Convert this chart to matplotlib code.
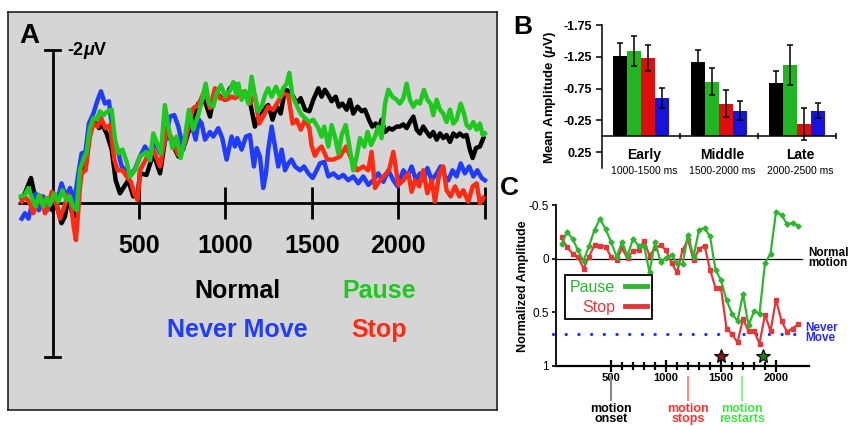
import matplotlib
matplotlib.use("Agg")
import matplotlib.pyplot as plt
from matplotlib.lines import Line2D
import numpy as np

plt.rcParams['font.family'] = ['Liberation Sans', 'DejaVu Sans']
plt.rcParams['mathtext.fontset'] = 'custom'
plt.rcParams['mathtext.rm'] = 'Liberation Sans:bold'
plt.rcParams['mathtext.it'] = 'Liberation Sans:italic:bold'
plt.rcParams['mathtext.bf'] = 'Liberation Sans:bold'

# ---------------- dati pannello A (ms, microvolt; negativo in alto) ----------------
normal_a = [(-179, -0.07), (-160, -0.13), (-125, -0.33), (-106, -0.13), (-86, 0.04), (-67, -0.09),
            (-44, 0.07), (-25, 0.0), (-2, 0.09), (23, 0.02), (52, 0.26), (72, 0.17), (91, -0.09),
            (114, 0.13), (133, 0.17), (153, -0.30), (178, -0.48), (203, -0.83), (222, -1.00),
            (245, -1.06), (269, -0.98), (288, -1.02), (313, -0.91), (342, -0.70), (365, -0.30),
            (390, -0.13), (415, -0.22), (438, -0.30), (467, -0.09), (492, -0.10), (506, -0.39),
            (544, -0.37), (583, -0.65), (622, -0.39), (660, -0.96), (689, -0.80), (728, -0.61),
            (766, -0.78), (814, -1.13), (843, -1.30), (882, -1.33), (911, -1.13), (940, -1.48),
            (968, -1.39), (998, -1.35), (1027, -1.50), (1052, -1.56), (1084, -1.41), (1113, -1.46),
            (1142, -1.33), (1171, -1.00), (1196, -1.17), (1219, -1.22), (1248, -1.28), (1273, -1.09),
            (1297, -1.26), (1320, -1.17), (1345, -1.48), (1370, -1.46), (1393, -1.39), (1412, -1.30),
            (1436, -1.37), (1461, -1.22), (1486, -1.20), (1509, -1.35), (1538, -1.50), (1557, -1.39),
            (1576, -1.48), (1596, -1.41), (1615, -1.33), (1638, -1.39), (1657, -1.26), (1677, -1.30),
            (1702, -1.22), (1721, -1.35), (1740, -1.17), (1765, -1.26), (1789, -1.20), (1808, -1.22),
            (1831, -1.09), (1850, -1.00), (1870, -1.04), (1885, -0.96), (1904, -1.09), (1924, -0.93),
            (1947, -0.98), (1966, -0.96), (1991, -1.00), (2010, -1.00), (2030, -1.03), (2049, -0.98),
            (2068, -1.06), (2088, -1.13), (2107, -0.96), (2126, -0.91), (2145, -1.00), (2165, -0.93),
            (2184, -0.87), (2203, -0.93), (2223, -0.83), (2242, -0.91), (2261, -0.85), (2280, -0.89),
            (2300, -0.80), (2319, -0.91), (2338, -0.87), (2357, -0.91), (2377, -0.87), (2396, -0.89),
            (2415, -0.70), (2431, -0.59), (2450, -0.72), (2473, -0.74), (2493, -0.85)]

never_a = [(-179, 0.20), (-160, 0.13), (-140, 0.20), (-117, 0.0), (-98, -0.13), (-79, 0.09),
           (-54, -0.09), (-31, 0.09), (-5, -0.04), (23, 0.0), (52, -0.26), (76, -0.09), (101, -0.20),
           (126, -0.02), (149, -0.39), (168, -0.65), (191, -0.67), (210, -1.04), (236, -1.17),
           (261, -1.35), (280, -1.46), (303, -1.30), (326, -1.33), (351, -0.87), (376, -0.70),
           (400, -0.48), (425, -0.43), (448, -0.35), (477, -0.45), (506, -0.61), (535, -0.74),
           (564, -0.63), (593, -0.80), (622, -0.65), (650, -0.80), (679, -1.13), (704, -1.15),
           (728, -1.00), (757, -0.70), (782, -1.04), (805, -1.02), (828, -0.83), (847, -1.09),
           (863, -1.04), (882, -0.83), (911, -0.93), (930, -0.87), (959, -0.98), (982, -0.85),
           (1007, -0.57), (1036, -0.87), (1055, -0.74), (1069, -0.85), (1094, -0.70), (1119, -0.87),
           (1142, -0.89), (1165, -0.48), (1181, -0.72), (1200, -0.61), (1219, -0.20), (1235, -0.39),
           (1248, -0.70), (1268, -1.00), (1287, -0.74), (1306, -0.48), (1326, -0.70), (1345, -0.43),
           (1364, -0.52), (1383, -0.57), (1403, -0.48), (1432, -0.43), (1455, -0.48), (1480, -0.39),
           (1505, -0.33), (1528, -0.43), (1547, -0.52), (1572, -0.54), (1596, -0.35), (1625, -0.39),
           (1654, -0.33), (1682, -0.37), (1711, -0.30), (1740, -0.35), (1769, -0.26), (1798, -0.35),
           (1827, -0.24), (1856, -0.30), (1885, -0.39), (1914, -0.28), (1943, -0.43), (1972, -0.30),
           (1997, -0.22), (2030, -0.43), (2053, -0.35), (2078, -0.48), (2103, -0.30), (2126, -0.39),
           (2145, -0.30), (2169, -0.46), (2194, -0.30), (2223, -0.39), (2246, -0.48), (2271, -0.35),
           (2290, -0.30), (2315, -0.43), (2338, -0.35), (2362, -0.52), (2386, -0.39), (2411, -0.48),
           (2435, -0.35), (2458, -0.43), (2483, -0.33), (2502, -0.30)]

stop_a = [(-179, -0.02), (-160, -0.09), (-131, 0.0), (-112, 0.13), (-92, 0.02), (-67, -0.09),
          (-44, 0.13), (-25, 0.04), (-5, -0.15), (18, -0.02), (43, 0.20), (68, 0.04), (87, -0.11),
          (106, 0.0), (122, 0.30), (135, 0.48), (147, 0.15), (158, -0.20), (168, -0.39), (191, -0.43),
          (216, -0.87), (236, -1.04), (261, -1.00), (280, -1.11), (307, -0.98), (332, -1.02),
          (357, -0.57), (376, -0.43), (404, -0.43), (428, -0.35), (453, -0.28), (473, -0.13),
          (492, -0.04), (506, -0.43), (544, -0.59), (583, -0.70), (622, -0.48), (660, -0.98),
          (689, -0.85), (728, -0.63), (766, -0.80), (814, -1.24), (843, -1.28), (882, -1.48),
          (911, -1.24), (940, -1.50), (968, -1.37), (1007, -1.35), (1036, -1.39), (1056, -1.37),
          (1084, -1.41), (1113, -1.46), (1142, -1.30), (1171, -1.41), (1196, -1.04), (1219, -1.13),
          (1248, -1.26), (1277, -1.22), (1306, -1.33), (1335, -1.43), (1364, -1.41), (1389, -1.04),
          (1412, -1.09), (1436, -0.96), (1461, -1.09), (1486, -0.98), (1499, -0.75), (1518, -0.62),
          (1538, -0.70), (1557, -0.74), (1590, -0.57), (1625, -0.57), (1663, -0.61), (1698, -0.74),
          (1731, -0.57), (1763, -0.43), (1798, -0.48), (1827, -0.43), (1846, -0.67), (1866, -0.20),
          (1895, -0.30), (1923, -0.37), (1947, -0.43), (1972, -0.67), (2001, -0.24), (2030, -0.30),
          (2059, -0.39), (2078, -0.15), (2097, -0.30), (2122, -0.22), (2145, -0.43), (2169, -0.13),
          (2194, -0.30), (2213, -0.02), (2238, -0.39), (2261, -0.48), (2280, -0.17), (2304, -0.09),
          (2329, -0.22), (2354, -0.09), (2377, -0.17), (2406, -0.02), (2431, -0.22), (2454, -0.26),
          (2473, 0.0), (2493, -0.07)]

pause_a = [(-183, -0.09), (-160, -0.11), (-140, -0.20), (-112, -0.02), (-98, 0.04), (-79, -0.11),
           (-54, 0.04), (-34, -0.07), (-15, 0.02), (10, -0.13), (33, -0.02), (56, -0.17), (81, -0.04),
           (100, -0.09), (120, 0.04), (139, 0.09), (158, -0.43), (178, -0.57), (197, -0.67),
           (216, -0.98), (236, -1.11), (255, -1.09), (274, -1.20), (294, -1.15), (319, -1.20),
           (342, -1.22), (361, -0.83), (380, -0.65), (404, -0.70), (429, -0.54), (448, -0.35),
           (477, -0.43), (506, -0.61), (544, -0.67), (564, -0.56), (583, -0.91), (602, -0.80),
           (627, -0.65), (650, -1.28), (670, -1.00), (693, -0.72), (718, -0.87), (741, -0.59),
           (766, -0.85), (789, -1.22), (814, -0.96), (843, -1.15), (863, -1.33), (886, -1.56),
           (905, -1.30), (930, -1.26), (949, -1.43), (974, -1.54), (998, -1.39), (1027, -1.47),
           (1046, -1.58), (1062, -1.42), (1075, -1.56), (1094, -1.35), (1113, -1.46), (1133, -1.30),
           (1152, -1.65), (1171, -1.39), (1191, -1.20), (1210, -1.26), (1229, -1.41), (1248, -1.50),
           (1268, -1.39), (1293, -1.52), (1316, -1.39), (1335, -1.50), (1355, -1.56), (1370, -1.70),
           (1389, -1.39), (1412, -1.28), (1436, -1.17), (1461, -1.11), (1486, -1.06), (1509, -1.09),
           (1538, -0.98), (1557, -0.87), (1572, -1.00), (1596, -0.74), (1615, -1.02), (1634, -0.87),
           (1654, -0.65), (1673, -0.89), (1696, -1.02), (1715, -0.78), (1740, -0.43), (1760, -0.61),
           (1779, -0.85), (1804, -0.74), (1823, -0.93), (1843, -0.76), (1866, -0.87), (1885, -1.00),
           (1904, -0.85), (1924, -1.30), (1943, -1.48), (1966, -1.39), (1991, -1.35), (2010, -1.30),
           (2030, -1.37), (2049, -1.56), (2068, -1.35), (2088, -1.26), (2107, -1.33), (2126, -1.30),
           (2149, -1.48), (2169, -1.35), (2188, -1.30), (2203, -1.15), (2223, -1.35), (2242, -1.22),
           (2261, -1.17), (2280, -1.06), (2300, -1.22), (2319, -1.04), (2338, -1.09), (2362, -1.30),
           (2381, -1.17), (2396, -1.02), (2415, -0.98), (2435, -1.06), (2454, -0.96), (2473, -1.04),
           (2489, -0.89), (2502, -0.91)]

a_ticks = [500, 1000, 1500, 2000, 2500]
a_tick_labels = ['500', '1000', '1500', '2000', '']

# ---------------- dati pannello B ----------------
b_windows = ['Early', 'Middle', 'Late']
b_ranges = ['1000-1500 ms', '1500-2000 ms', '2000-2500 ms']
b_conditions = ['Normal', 'Pause', 'Stop', 'Never Move']
b_means = {'Normal': [-1.27, -1.16, -0.83],
           'Pause': [-1.34, -0.86, -1.12],
           'Stop': [-1.23, -0.51, -0.19],
           'Never Move': [-0.60, -0.40, -0.40]}
b_errs = {'Normal': [0.20, 0.19, 0.20],
          'Pause': [0.23, 0.21, 0.32],
          'Stop': [0.21, 0.21, 0.25],
          'Never Move': [0.16, 0.15, 0.12]}
b_yticks = [-1.75, -1.25, -0.75, -0.25, 0.25]

# ---------------- dati pannello C ----------------
c_times = [50, 100, 150, 200, 250, 300, 350, 400, 450, 500, 550, 600, 650, 700, 750, 800, 850,
           900, 950, 1000, 1050, 1100, 1150, 1200, 1250, 1300, 1350, 1400, 1450, 1500, 1550,
           1600, 1650, 1700, 1750, 1800, 1850, 1900, 1950, 2000, 2050, 2100, 2150, 2200]
c_pause = [-0.14, -0.25, -0.19, -0.08, 0.02, -0.12, -0.27, -0.375, -0.28, -0.16, -0.02, -0.155,
           -0.03, -0.185, -0.125, -0.125, 0.125, -0.16, 0.025, -0.005, -0.04, 0.04, 0.05, -0.225,
           -0.02, -0.27, -0.29, -0.21, 0.10, 0.20, 0.385, 0.51, 0.58, 0.33, 0.62, 0.49, 0.51,
           0.04, -0.047, -0.44, -0.41, -0.325, -0.335, -0.31]
c_stop = [-0.20, -0.11, -0.05, -0.02, 0.09, -0.02, -0.13, -0.125, -0.115, -0.02, 0.01, -0.10,
          -0.005, -0.075, -0.08, -0.17, -0.03, -0.10, -0.13, -0.08, 0.04, 0.125, -0.08, -0.18,
          0.01, -0.09, -0.125, 0.10, 0.27, 0.27, 0.65, 0.70, 0.78, 0.56, 0.675, 0.675, 0.79,
          0.52, 0.675, 0.38, 0.58, 0.68, 0.65, 0.61]
c_never_level = 0.70
c_star_times = [1500, 1880]
c_star_level = 0.91
c_events = [500, 1200, 1690]
c_event_labels = ['motion\nonset', 'motion\nstops', 'motion\nrestarts']
c_major = [500, 1000, 1500, 2000]
c_minor = [600, 700, 800, 900, 1100, 1200, 1300, 1400, 1600, 1700, 1800, 1900]

# colori
BLACK = '#000000'
GREEN_A, RED_A, BLUE_A = '#1ec81e', '#ff2a12', '#1f3cff'
GREEN_B, RED_B, BLUE_B = '#22b522', '#e00d0d', '#1414dd'
GREEN_C, RED_C = '#2fb52f', '#e2383c'

W, H = 850, 426


def fx(x):
    return x / W


def fy(y):
    return 1 - y / H


fig = plt.figure(figsize=(W / 100, H / 100), dpi=100)

# ================= PANNELLO A =================
axA = fig.add_axes([fx(8), fy(410), fx(497) - fx(8), fy(12) - fy(410)])
axA.set_facecolor('#d5d5d5')
axA.set_xlim(-258, 2572)
axA.set_ylim(2.695, -2.494)
axA.set_xticks([])
axA.set_yticks([])
for s in axA.spines.values():
    s.set_linewidth(1.2)
    s.set_color('#222222')

# assi disegnati a mano
axA.plot([0, 0], [-2, 2], color='black', lw=2, solid_capstyle='butt', zorder=2)
axA.plot([-45, 45], [-2, -2], color='black', lw=2, zorder=2)
axA.plot([-45, 45], [2, 2], color='black', lw=2, zorder=2)
axA.plot([-200, 2500], [0, 0], color='black', lw=2, solid_capstyle='butt', zorder=2)
axA.vlines(a_ticks, -0.21, 0.21, color='black', lw=2, zorder=2)
for t, lab in zip(a_ticks, a_tick_labels):
    axA.text(t, 0.653, lab, ha='center', va='baseline', fontsize=18, fontweight='bold')

for serie, col in [(normal_a, BLACK), (never_a, BLUE_A), (stop_a, RED_A), (pause_a, GREEN_A)]:
    tt, vv = zip(*serie)
    axA.plot(tt, vv, color=col, lw=3.2, solid_joinstyle='round', zorder=3)

axA.text(81, -1.934, r'-2$\mu$V', ha='left', va='baseline', fontsize=13, fontweight='bold')
axA.text(-190, -2.086, 'A', ha='left', va='baseline', fontsize=20, fontweight='bold')
axA.text(1067, 1.231, 'Normal', ha='center', va='baseline', fontsize=18, fontweight='bold', color=BLACK)
axA.text(1893, 1.231, 'Pause', ha='center', va='baseline', fontsize=18, fontweight='bold', color=GREEN_A)
axA.text(1071, 1.739, 'Never Move', ha='center', va='baseline', fontsize=18, fontweight='bold', color=BLUE_A)
axA.text(1889, 1.739, 'Stop', ha='center', va='baseline', fontsize=18, fontweight='bold', color=RED_A)

# ================= PANNELLO B =================
axB = fig.add_axes([fx(602), fy(168), fx(836) - fx(602), fy(25) - fy(168)])
axB.set_xlim(0, 3)
axB.set_ylim(0.5, -1.75)
bw = 0.18
centri = np.arange(len(b_windows)) + 0.5
b_colors = [BLACK, GREEN_B, RED_B, BLUE_B]
for j, (cond, col) in enumerate(zip(b_conditions, b_colors)):
    xs = centri + (j - 1.5) * bw
    axB.bar(xs, b_means[cond], width=bw, color=col, zorder=2)
    axB.errorbar(xs, b_means[cond], yerr=b_errs[cond], fmt='none', ecolor='black',
                 elinewidth=1.1, capsize=2.5, capthick=1.1, zorder=3)

axB.spines['top'].set_visible(False)
axB.spines['right'].set_visible(False)
axB.spines['bottom'].set_position(('data', 0))
axB.spines['left'].set_linewidth(1.1)
axB.spines['bottom'].set_linewidth(1.1)
axB.set_yticks(b_yticks)
axB.set_yticklabels([f'{v:.2f}' for v in b_yticks], fontsize=9, fontweight='bold')
axB.tick_params(axis='y', direction='out', length=4, width=1.1, pad=3)
axB.set_xticks([1, 2, 3])
axB.set_xticklabels([])
axB.tick_params(axis='x', direction='inout', length=5, width=1.1)
for c, nome, rng in zip(centri, b_windows, b_ranges):
    axB.text(c + 0.04, 0.30, nome, ha='center', va='center', fontsize=10, fontweight='bold')
    axB.text(c + 0.04, 0.55, rng, ha='center', va='center', fontsize=7.5)

fig.text(fx(550), fy(98), r'Mean Amplitude ($\mu$V)', rotation=90, ha='center', va='center',
         fontsize=9.5, fontweight='bold')
fig.text(fx(513), fy(34), 'B', ha='left', va='baseline', fontsize=19, fontweight='bold')

# ================= PANNELLO C =================
axC = fig.add_axes([fx(556), fy(366), fx(809) - fx(556), fy(200) - fy(366)])
axC.set_xlim(0, 2300)
axC.set_ylim(1.0, -0.55)
axC.spines['top'].set_visible(False)
axC.spines['right'].set_visible(False)
axC.spines['left'].set_bounds(-0.5, 1)
axC.spines['left'].set_linewidth(1.3)
axC.spines['bottom'].set_linewidth(1.6)
axC.set_yticks([-0.5, 0, 0.5, 1])
axC.set_yticklabels(['-0.5', '0', '0.5', '1'], fontsize=8.5)
axC.tick_params(axis='y', direction='out', length=3, width=1.2, pad=2)
axC.set_xticks(c_major)
axC.set_xticklabels([str(v) for v in c_major], fontsize=8, fontweight='bold')
axC.set_xticks(c_minor, minor=True)
axC.tick_params(axis='x', which='major', direction='inout', length=8, width=1.6, pad=1)
axC.tick_params(axis='x', which='minor', direction='inout', length=5.5, width=1.6)

axC.plot([0, 2235], [0, 0], color='black', lw=0.9, zorder=1)
axC.plot([-30, 2170], [c_never_level, c_never_level], color='#2233ff', lw=2.4,
         linestyle=(0, (0.01, 3.8)), dash_capstyle='round', clip_on=False, zorder=1)
axC.plot(c_times, c_stop, color=RED_C, lw=1.6, marker='s', markersize=3.2, zorder=3)
axC.plot(c_times, c_pause, color=GREEN_C, lw=1.6, marker='D', markersize=2.6, zorder=4)
for t, col in zip(c_star_times, ['#8e1414', '#1c7c1c']):
    axC.plot([t], [c_star_level], marker='*', markersize=10, color=col,
             markeredgecolor='black', markeredgewidth=0.8, zorder=5)

ev_colors = ['#8a8a8a', '#ff8c80', '#8cf08c']
tx_colors = ['black', '#ff3030', '#3ee83e']
for t, lab, lc, tc in zip(c_events, c_event_labels, ev_colors, tx_colors):
    axC.plot([t, t], [1.106, 1.32], color=lc, lw=1.5, clip_on=False)
    axC.text(t, 1.45, lab, ha='center', va='center', fontsize=9, fontweight='bold',
             color=tc, linespacing=0.72, clip_on=False)

fig.text(fx(808), fy(258), 'Normal\nmotion', ha='left', va='center', fontsize=8.5,
         fontweight='bold', linespacing=0.78)
fig.text(fx(805), fy(333), 'Never\nMove', ha='left', va='center', fontsize=8.5,
         fontweight='bold', color='#2a2aff', linespacing=0.78)
fig.text(fx(523), fy(286), 'Normalized Amplitude', rotation=90, ha='center', va='center',
         fontsize=9, fontweight='bold')
fig.text(fx(500), fy(195), 'C', ha='left', va='baseline', fontsize=19, fontweight='bold')

handles = [Line2D([], [], color=GREEN_C, lw=3.5), Line2D([], [], color=RED_C, lw=3.5)]
leg = fig.legend(handles, ['Pause', 'Stop'], loc='upper left',
                 bbox_to_anchor=(fx(565), fy(275)), bbox_transform=fig.transFigure,
                 markerfirst=False, labelcolor=[GREEN_C, RED_C], fontsize=11.5,
                 frameon=True, fancybox=False, framealpha=1, edgecolor='black',
                 handlelength=1.4, handletextpad=0.6, borderpad=0.3, labelspacing=0.3,
                 borderaxespad=0)
leg.get_frame().set_linewidth(1.3)

fig.savefig('out.png', dpi=100)
